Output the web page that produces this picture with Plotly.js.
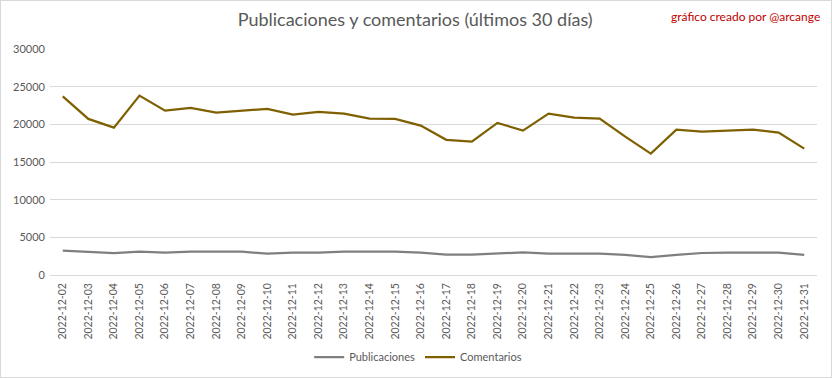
<!DOCTYPE html>
<html>
<head>
<meta charset="utf-8">
<script src="https://cdn.plot.ly/plotly-3.0.1.min.js"></script>
<style>
html,body{margin:0;padding:0;background:#fff;}
#chart{width:832px;height:378px;box-sizing:border-box;border:1px solid #d9d9d9;}
</style>
</head>
<body>
<div id="chart"></div>
<script>
const fechas = ["2022-12-02","2022-12-03","2022-12-04","2022-12-05","2022-12-06","2022-12-07","2022-12-08","2022-12-09","2022-12-10","2022-12-11","2022-12-12","2022-12-13","2022-12-14","2022-12-15","2022-12-16","2022-12-17","2022-12-18","2022-12-19","2022-12-20","2022-12-21","2022-12-22","2022-12-23","2022-12-24","2022-12-25","2022-12-26","2022-12-27","2022-12-28","2022-12-29","2022-12-30","2022-12-31"];
const publicaciones = [3230,3050,2920,3100,2970,3100,3100,3100,2830,2970,2970,3100,3100,3100,2970,2700,2700,2830,3010,2830,2830,2830,2660,2390,2660,2920,2970,2970,2970,2660];
const comentarios = [23700,20720,19560,23810,21820,22180,21560,21780,22050,21290,21650,21420,20760,20720,19830,17950,17700,20190,19170,21420,20890,20760,18370,16110,19300,19030,19170,19300,18900,16770];

const fontFam = "Lato, 'Open Sans', sans-serif";
const traces = [
  {x: fechas, y: publicaciones, name: "Publicaciones", type: "scatter", mode: "lines",
   line: {color: "#7f7f7f", width: 2.25}},
  {x: fechas, y: comentarios, name: "Comentarios", type: "scatter", mode: "lines",
   line: {color: "#7f6000", width: 2.25}}
];
const layout = {
  width: 830, height: 376,
  margin: {l: 48.5, r: 14, t: 48, b: 102, autoexpand: false},
  paper_bgcolor: "#fff", plot_bgcolor: "#fff",
  font: {family: fontFam, color: "#595959", size: 11},
  title: {text: "Publicaciones y comentarios (últimos 30 días)", x: 0.499, xref: "container", y: 0.949, yref: "container", yanchor: "middle",
          font: {family: fontFam, size: 18, color: "#595959"}},
  xaxis: {type: "category", range: [-0.5, fechas.length - 0.5], tickangle: -90, showgrid: false, zeroline: false, showline: false, ticks: "",
          automargin: false, ticklabelstandoff: 5,
          tickfont: {size: 10.5, color: "#595959"}, fixedrange: true},
  yaxis: {range: [0, 30000], dtick: 5000, showgrid: true, gridcolor: "#d9d9d9", gridwidth: 1, zeroline: true, zerolinecolor: "#d9d9d9",
          automargin: false, ticklabelstandoff: 4,
          showline: false, ticks: "", tickformat: "d", tickfont: {size: 11, color: "#595959"}, fixedrange: true},
  showlegend: true,
  legend: {orientation: "h", x: 0.48, xanchor: "center", y: -0.363, yanchor: "middle", font: {size: 11, color: "#595959"}, itemwidth: 30},
  annotations: [{text: "gráfico creado por @arcange", xref: "paper", yref: "paper", x: 1.0065, y: 1.146, xanchor: "right", yanchor: "middle",
                 showarrow: false, font: {family: fontFam, size: 12, color: "#c00000"}}]
};
Plotly.newPlot("chart", traces, layout, {displayModeBar: false, staticPlot: true});
</script>
</body>
</html>
